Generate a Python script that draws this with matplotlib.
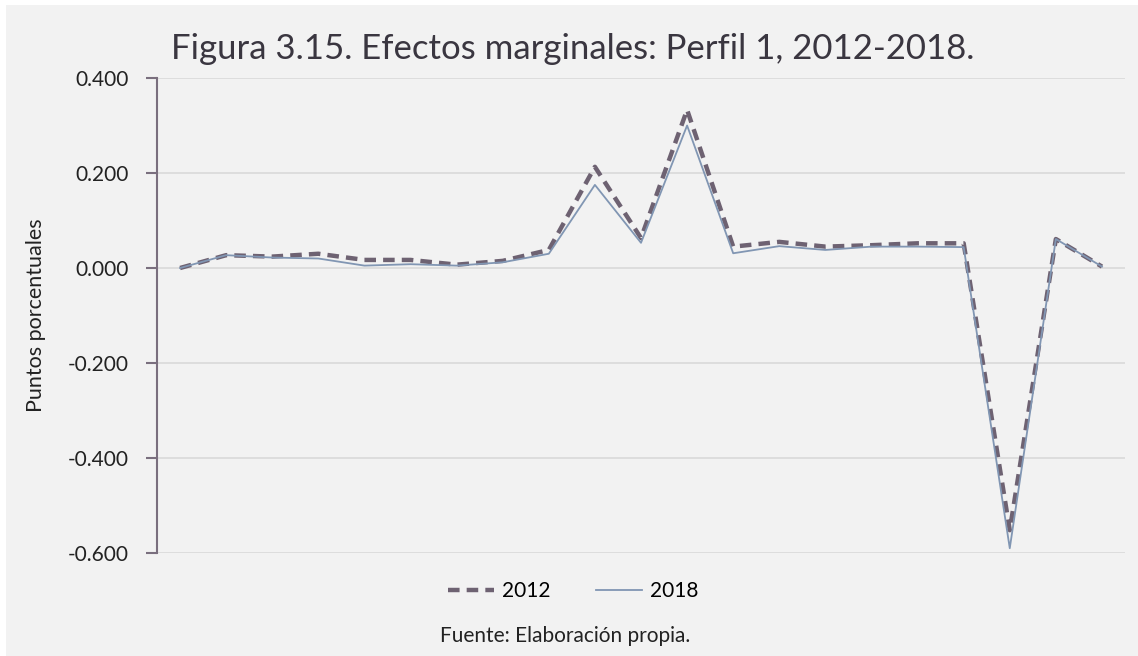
import numpy as np
import matplotlib.pyplot as plt
from matplotlib.patches import Rectangle

# --- Data ---
categories = list(range(1, 22))
y2012 = [0.000, 0.027, 0.024, 0.030, 0.017, 0.017, 0.007, 0.015, 0.038, 0.213,
         0.063, 0.333, 0.045, 0.055, 0.045, 0.048, 0.052, 0.052, -0.552, 0.061, 0.003]
y2018 = [0.000, 0.027, 0.022, 0.020, 0.005, 0.008, 0.005, 0.012, 0.030, 0.175,
         0.053, 0.300, 0.031, 0.046, 0.038, 0.045, 0.045, 0.044, -0.590, 0.061, 0.003]
yticks = [0.4, 0.2, 0.0, -0.2, -0.4, -0.6]

bg = '#f2f2f2'
col_2012 = '#6e6272'
col_2018 = '#8196b3'
txt = '#222222'

plt.rcParams['font.family'] = ['Lato', 'DejaVu Sans']

fig = plt.figure(figsize=(11.38, 6.56), dpi=100)
fig.patch.set_facecolor('white')
fig.patches.append(Rectangle((6 / 1138, 0), 1 - 6 / 1138, 1 - 5 / 656,
                             transform=fig.transFigure, facecolor=bg,
                             edgecolor='none', zorder=-10))

ax = fig.add_axes([157 / 1138, 1 - 553 / 656, (1125 - 157) / 1138, (553 - 78) / 656])
ax.set_facecolor(bg)

x = np.arange(len(categories))
ax.plot(x, y2012, color=col_2012, linewidth=3.2, dashes=(2.6, 1.6),
        label='2012', zorder=3, dash_capstyle='butt')
ax.plot(x, y2018, color=col_2018, linewidth=1.3, label='2018', zorder=4)

ax.set_xlim(-0.5, len(categories) - 0.5)
ax.set_ylim(-0.6, 0.4)
ax.set_yticks(yticks)
ax.set_yticklabels([f'{v:.3f}' for v in yticks], fontsize=15, color=txt)
ax.set_xticks([])
ax.grid(axis='y', color='#d9d9d9', linewidth=1.2)
ax.set_axisbelow(True)

for s in ['top', 'right', 'bottom']:
    ax.spines[s].set_visible(False)
ax.spines['left'].set_color('#7a6f7e')
ax.spines['left'].set_linewidth(1.5)
ax.tick_params(axis='y', length=8, width=1.5, color='#7a6f7e', pad=12)

ax.set_ylabel('Puntos porcentuales', fontsize=15.5, color=txt, labelpad=16)

fig.text(0.503, 0.925, 'Figura 3.15. Efectos marginales: Perfil 1, 2012-2018.',
         ha='center', va='center', fontsize=25, color='#3a3640')

ax.legend(loc='upper center', bbox_to_anchor=(0.43, -0.02), ncol=2, frameon=False,
          fontsize=15, handlelength=2.2, columnspacing=2.2, handletextpad=0.4)

fig.text(0.497, 1 - 636 / 656, 'Fuente: Elaboración propia.', ha='center', va='center',
         fontsize=15, color=txt)

fig.savefig('out.png', dpi=100, facecolor=fig.get_facecolor())
